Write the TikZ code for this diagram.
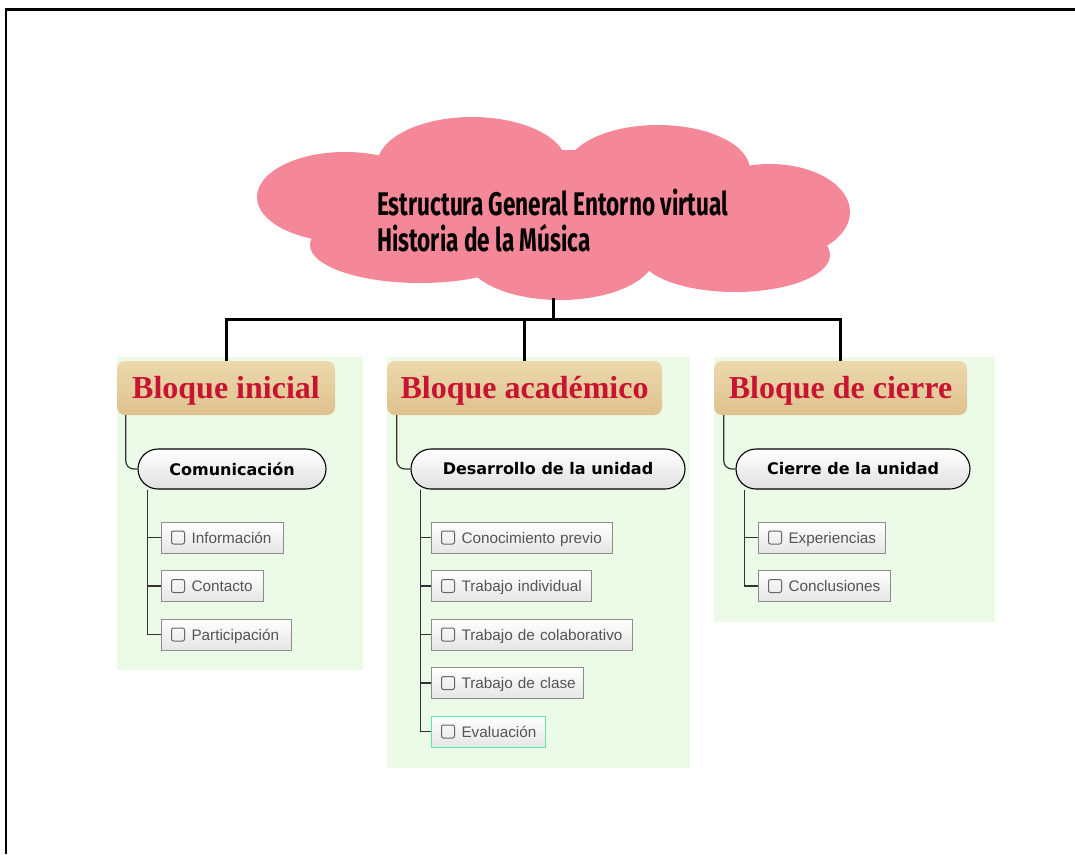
\documentclass[tikz,border=0pt]{standalone}
\usepackage{fontspec}
\setmainfont{Liberation Sans}
\newfontfamily\cloudfont[FakeStretch=0.69]{Fira Sans}
\newfontfamily\hdrfont{Liberation Serif}
\newfontfamily\pillfont{DejaVu Sans}
\newfontfamily\leaffont{Liberation Sans}
\usetikzlibrary{calc}
\definecolor{cloudpink}{RGB}{244,136,152}
\definecolor{panelgreen}{RGB}{235,251,232}
\definecolor{tantop}{RGB}{236,216,172}
\definecolor{tanbot}{RGB}{222,194,142}
\definecolor{hdrred}{RGB}{200,20,50}
\definecolor{leafborder}{RGB}{140,140,140}
\definecolor{leaftext}{RGB}{85,85,85}
\definecolor{evalborder}{RGB}{95,230,170}
\tikzset{
  hdr/.style={rounded corners=8pt, top color=tantop, bottom color=tanbot, draw=none,
    minimum height=54pt, text=hdrred, inner sep=0, text height=24pt, text depth=4pt,
    font=\hdrfont\bfseries\fontsize{32}{32}\selectfont},
  pill/.style={rounded corners=20pt, draw=black, line width=1.1pt, top color=white,
    bottom color=black!12, minimum height=40pt, inner sep=0,
    font=\pillfont\bfseries\fontsize{16}{16}\selectfont},
  leaf/.style={draw=leafborder, line width=1pt, top color=white, bottom color=black!10,
    minimum height=31pt, anchor=west, text=leaftext, inner xsep=0, inner ysep=0,
    text height=10.5pt, text depth=2pt,
    text width=#1, align=left, font=\leaffont\fontsize{15.3}{15}\selectfont,
    path picture={\draw[black!60, line width=1pt, rounded corners=2pt]
      ($(path picture bounding box.west)+(10,-6.5)$) rectangle ++(13,13);}},
  conn/.style={draw=black!80, line width=1.2pt},
  trunk/.style={draw=black, line width=3pt},
  panel/.style={fill=panelgreen, draw=none}
}
\newcommand{\lf}[1]{\hspace*{30pt}\raisebox{-1.5pt}{#1}}
\begin{document}
\begin{tikzpicture}[x=1pt,y=-1pt]
\useasboundingbox (0,0) rectangle (1075,854);
\fill[white] (0,0) rectangle (1075,854);
% frame
\draw[line width=2.5pt] (6,854) -- (6,9.5) -- (1075,9.5);
% cloud
\begin{scope}[cloudpink]
\fill (472,165) ellipse [x radius=95pt, y radius=48pt];
\fill (658,170) ellipse [x radius=92pt, y radius=45pt];
\fill (345,197) ellipse [x radius=88pt, y radius=45pt];
\fill (770,212) ellipse [x radius=80pt, y radius=48pt];
\fill (420,245) ellipse [x radius=110pt, y radius=38pt];
\fill (560,255) ellipse [x radius=95pt, y radius=45pt];
\fill (735,255) ellipse [x radius=95pt, y radius=37pt];
\fill (555,210) ellipse [x radius=230pt, y radius=60pt];
\end{scope}
\coordinate (cb) at (553,298);
\node[anchor=west, align=left, inner sep=0,
  font=\cloudfont\bfseries\fontsize{32.7}{36}\selectfont] (title) at (377,221)
  {Estructura General Entorno virtual\\Historia de la Música};
% panels
\fill[panel] (117,357) rectangle (363,670);
\fill[panel] (387,357) rectangle (690,768);
\fill[panel] (714,357) rectangle (995,622);
% headers
\node[hdr, minimum width=218pt] (h1) at (226,388) {Bloque inicial};
\node[hdr, minimum width=275pt] (h2) at (524.5,388) {Bloque académico};
\node[hdr, minimum width=253pt] (h3) at (840.5,388) {Bloque de cierre};
% trunk
\draw[trunk] (cb) -- ++(0,21) coordinate (jn);
\draw[trunk] (h1.north) |- (jn) -| (h3.north);
\draw[trunk] (h2.north) -- (h2.north |- jn);
% pills
\node[pill, minimum width=188pt] (p1) at (232,469) {Comunicación};
\node[pill, minimum width=274pt] (p2) at (548,469) {Desarrollo de la unidad};
\node[pill, minimum width=234pt] (p3) at (853,469) {Cierre de la unidad};
\draw[conn, rounded corners=8pt] ([xshift=9pt]h1.south west) |- (p1.west);
\draw[conn, rounded corners=8pt] ([xshift=10pt]h2.south west) |- (p2.west);
\draw[conn, rounded corners=8pt] ([xshift=10pt]h3.south west) |- (p3.west);
% leaves
\node[leaf=122pt] (a1) at (161,537.5) {\lf{Información}};
\node[leaf=102pt] (a2) at (161,586) {\lf{Contacto}};
\node[leaf=130pt] (a3) at (161,634.5) {\lf{Participación}};
\node[leaf=181pt] (b1) at (431,537.5) {\lf{Conocimiento previo}};
\node[leaf=160pt] (b2) at (431,586) {\lf{Trabajo individual}};
\node[leaf=201pt] (b3) at (431,634.5) {\lf{Trabajo de colaborativo}};
\node[leaf=152pt] (b4) at (431,683) {\lf{Trabajo de clase}};
\node[leaf=114pt, draw=evalborder] (b5) at (431,731.5) {\lf{Evaluación}};
\node[leaf=127pt] (c1) at (758,537.5) {\lf{Experiencias}};
\node[leaf=132pt] (c2) at (758,586) {\lf{Conclusiones}};
\foreach \n in {a1,a2,a3} \draw[conn] ([xshift=10pt]p1.south west) |- (\n.west);
\foreach \n in {b1,b2,b3,b4,b5} \draw[conn] ([xshift=10pt]p2.south west) |- (\n.west);
\foreach \n in {c1,c2} \draw[conn] ([xshift=9pt]p3.south west) |- (\n.west);
\end{tikzpicture}
\end{document}
